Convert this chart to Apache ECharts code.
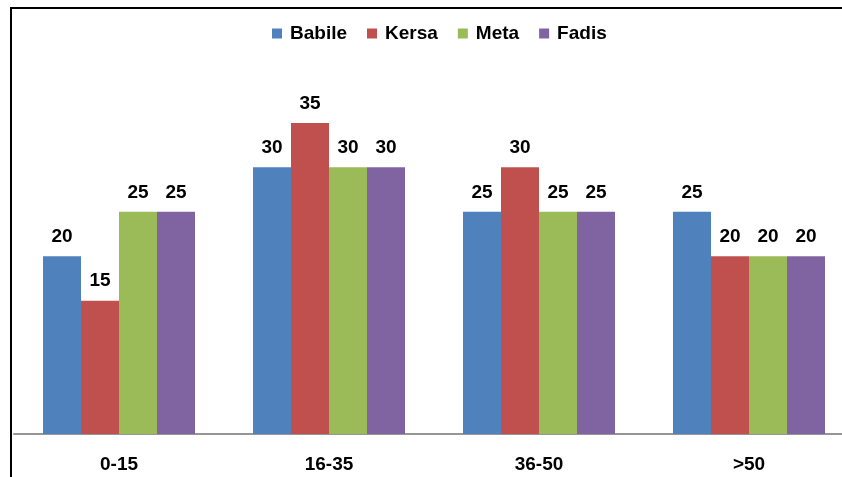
<!DOCTYPE html>
<html>
<head>
<meta charset="utf-8">
<style>
  html, body { margin: 0; padding: 0; background: #fff; overflow: hidden; }
  #chart { width: 854px; height: 477px; }
</style>
<script src="https://cdn.jsdelivr.net/npm/echarts@6/dist/echarts.min.js"></script>
</head>
<body>
<div id="chart"></div>
<script>
// Age groups and the share for each woreda
const categories = ['0-15', '16-35', '36-50', '>50'];
const seriesNames = ['Babile', 'Kersa', 'Meta', 'Fadis'];
const babile = [20, 30, 25, 25];
const kersa = [15, 35, 30, 20];
const meta = [25, 30, 25, 20];
const fadis = [25, 30, 25, 20];
const colors = ['#4F81BD', '#C0504D', '#9BBB59', '#8064A2'];

const font = '"Liberation Sans", Arial, sans-serif';
const values = [babile, kersa, meta, fadis];

const chart = echarts.init(document.getElementById('chart'), null, { renderer: 'canvas' });

chart.setOption({
  animation: false,
  backgroundColor: '#fff',
  textStyle: { fontFamily: font },
  graphic: [{
    type: 'rect',
    shape: { x: 11, y: 8, width: 900, height: 600 },
    style: { fill: 'none', stroke: '#000', lineWidth: 2 },
    silent: true,
    z: 100
  }],
  legend: {
    top: 19,
    left: 267,
    icon: 'rect',
    itemWidth: 10,
    itemHeight: 10,
    itemGap: 20,
    textStyle: { fontFamily: font, fontWeight: 'bold', fontSize: 19, color: '#000', padding: [0, 0, 0, 3] },
    data: seriesNames
  },
  grid: { left: 14, top: 34, right: 0, bottom: 43, containLabel: false },
  xAxis: {
    type: 'category',
    data: categories,
    axisLine: { show: true, lineStyle: { color: '#969696', width: 2 } },
    axisTick: { show: false },
    axisLabel: { color: '#000', fontFamily: font, fontWeight: 'bold', fontSize: 19, margin: 21 }
  },
  yAxis: {
    type: 'value',
    min: 0,
    max: 45,
    interval: 5,
    show: false,
    splitLine: { show: false }
  },
  series: seriesNames.map((name, i) => ({
    name: name,
    type: 'bar',
    data: values[i],
    barWidth: 38,
    barGap: '0%',
    itemStyle: { color: colors[i] },
    label: {
      show: true,
      position: 'top',
      distance: 10,
      color: '#000',
      fontFamily: font,
      fontWeight: 'bold',
      fontSize: 19
    }
  }))
});
</script>
</body>
</html>
